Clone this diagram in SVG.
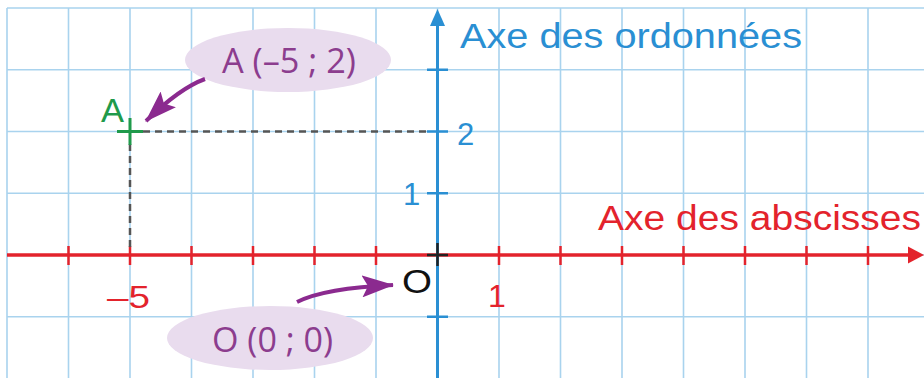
<svg xmlns="http://www.w3.org/2000/svg" width="924" height="378" viewBox="0 0 924 378">
  <style>
    .grid { stroke: #a9d3ee; stroke-width: 1.6; fill: none; }
    .xaxis { stroke: #e3232c; stroke-width: 3.5; fill: none; }
    .xtick { stroke: #e3232c; stroke-width: 2.5; }
    .yaxis { stroke: #2a8fd3; stroke-width: 3; fill: none; }
    .ytick { stroke: #2a8fd3; stroke-width: 2.5; }
    .dash { stroke: #555; stroke-width: 2.5; stroke-dasharray: 7 5; fill: none; }
    .sans { font-family: "Liberation Sans", Arial, sans-serif; }
    .bubble { fill: #e9dcee; }
    .btext { font-family: "Open Sans", "Noto Sans", sans-serif; font-size: 34px; fill: #8c3d8e; }
    .parrow { stroke: #8b2a8f; stroke-width: 4; fill: none; }
  </style>
  <defs>
    <marker id="ph" markerUnits="userSpaceOnUse" markerWidth="32" markerHeight="22" refX="31" refY="11" orient="auto">
      <path d="M0,0 L32,11 L0,22 L6,11 z" fill="#8b2a8f"/>
    </marker>
  </defs>
  <rect width="924" height="378" fill="#ffffff"/>
  <g id="grid" class="grid">
    <path d="M7,8V378 M68.5,8V378 M130,8V378 M191.5,8V378 M253,8V378 M314.5,8V378 M376,8V378 M437.5,8V378 M499,8V378 M560.5,8V378 M622,8V378 M683.5,8V378 M745,8V378 M806.5,8V378 M868,8V378"/>
    <path d="M7,8H924 M7,69.75H924 M7,131.5H924 M7,193.25H924 M7,255H924 M7,316.75H924"/>
  </g>
  <g id="x-axis">
    <path class="xaxis" d="M7,255H912"/>
    <path d="M924,255 L908,246.5 L908,263.5 z" fill="#e3232c"/>
    <path class="xtick" d="M68.5,246V265 M130,246V265 M191.5,246V265 M253,246V265 M314.5,246V265 M376,246V265 M499,246V265 M560.5,246V265 M622,246V265 M683.5,246V265 M745,246V265 M806.5,246V265 M868,246V265"/>
    <text class="sans" x="598" y="230" font-size="35" fill="#e3232c" textLength="323" lengthAdjust="spacingAndGlyphs">Axe des abscisses</text>
    <text class="sans" x="107" y="308" font-size="32" fill="#e3232c" textLength="43" lengthAdjust="spacingAndGlyphs">–5</text>
    <text class="sans" x="488" y="307" font-size="32" fill="#e3232c">1</text>
  </g>
  <g id="y-axis">
    <path class="yaxis" d="M437.5,378V22"/>
    <path d="M437.5,9 L430,26 L445,26 z" fill="#2a8fd3"/>
    <path class="ytick" d="M427,69.75H448 M427,131.5H448 M427,193.25H448 M427,316.75H448"/>
    <text class="sans" x="460" y="48" font-size="35" fill="#2a8fd3" textLength="342" lengthAdjust="spacingAndGlyphs">Axe des ordonnées</text>
    <text class="sans" x="457" y="145" font-size="31" fill="#2a8fd3">2</text>
    <text class="sans" x="403" y="205" font-size="31" fill="#2a8fd3">1</text>
  </g>
  <g id="origin">
    <path d="M427,255H448 M437.5,243V266" stroke="#222" stroke-width="2.5"/>
    <text class="sans" x="402" y="293" font-size="34" fill="#111" textLength="30" lengthAdjust="spacingAndGlyphs">O</text>
  </g>
  <g id="point-A">
    <path class="dash" d="M143,131.5H430 M130,144V248"/>
    <path d="M117,131.5H143 M130,118V145" stroke="#1f9a4b" stroke-width="3"/>
    <text class="sans" x="101" y="122" font-size="33" fill="#1f9a4b" textLength="23" lengthAdjust="spacingAndGlyphs">A</text>
  </g>
  <g id="label-A">
    <ellipse class="bubble" cx="288" cy="60" rx="103" ry="32"/>
    <text class="btext" x="222" y="73" textLength="134" lengthAdjust="spacingAndGlyphs">A (–5 ; 2)</text>
  </g>
  <g id="label-O">
    <ellipse class="bubble" cx="270" cy="338" rx="103" ry="32"/>
    <text class="btext" x="212" y="352" textLength="121" lengthAdjust="spacingAndGlyphs">O (0 ; 0)</text>
  </g>
  <g id="connectors">
    <path class="parrow" d="M205,79 Q180,88 146,121" marker-end="url(#ph)"/>
    <path class="parrow" d="M297,302 Q325,288 393,285" marker-end="url(#ph)"/>
  </g>
</svg>
